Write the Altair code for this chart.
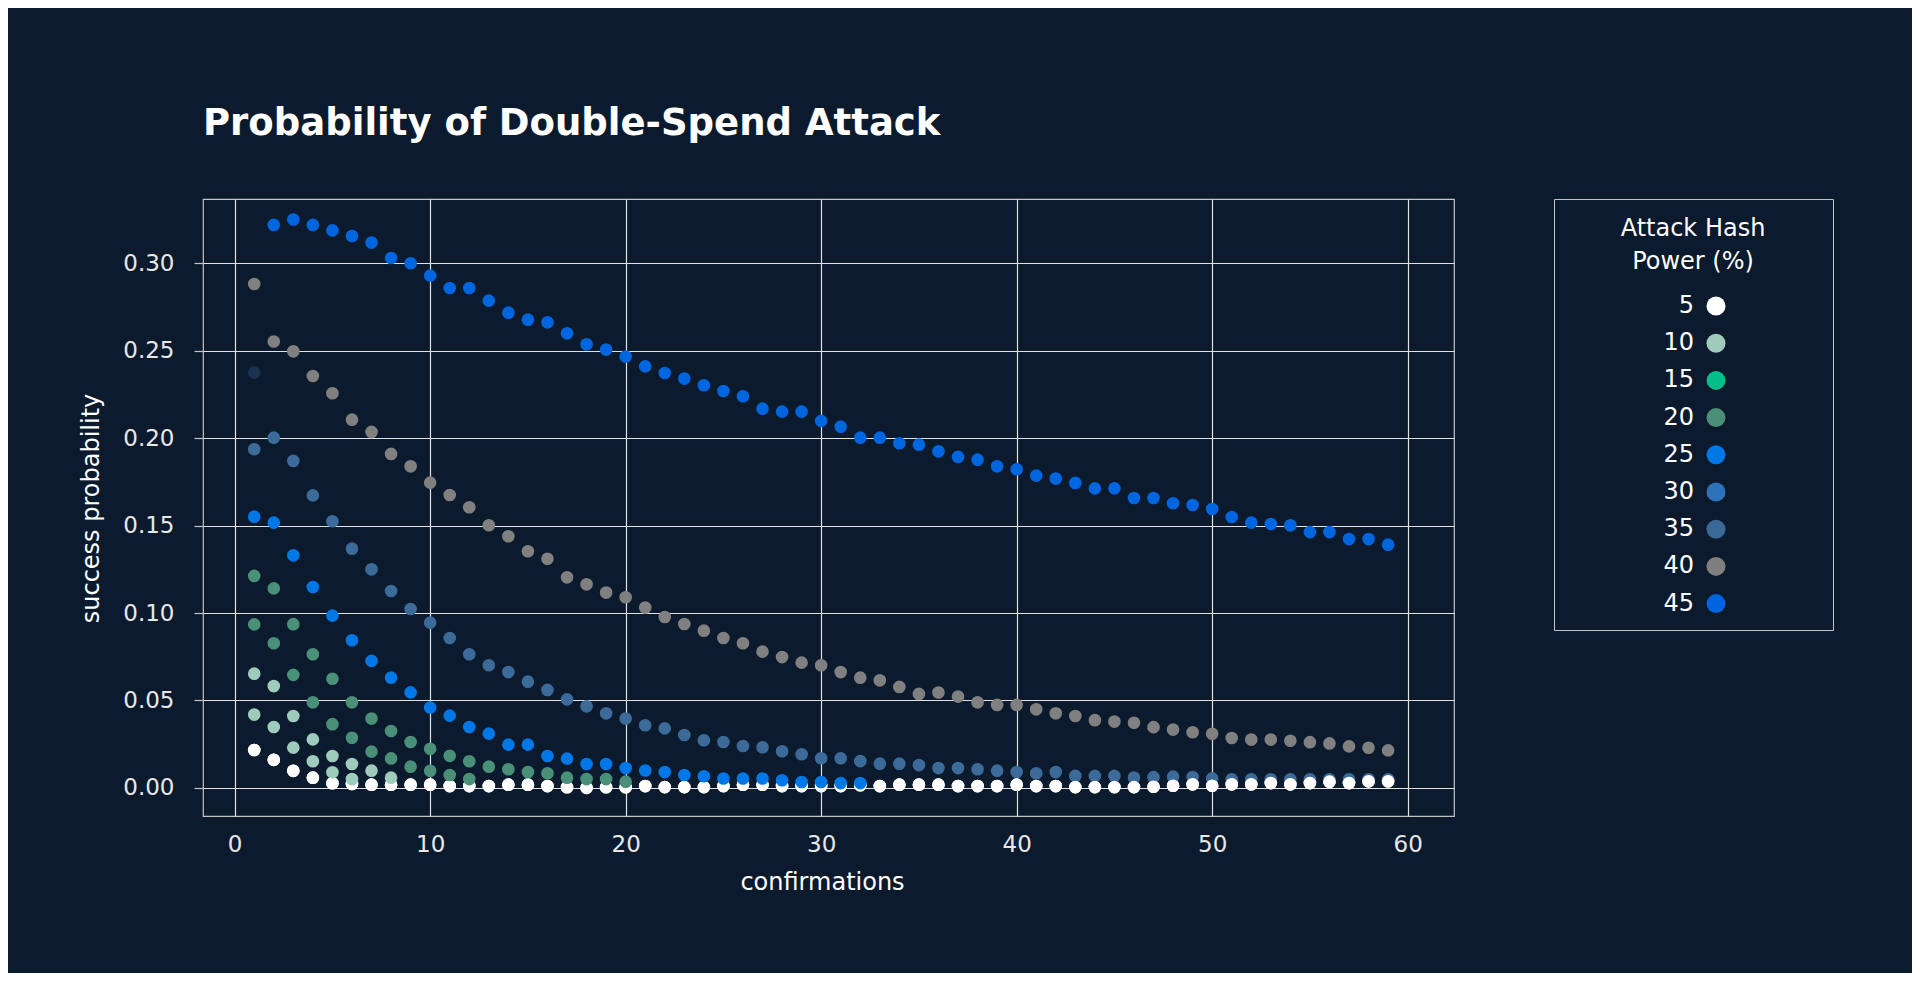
import altair as alt
import pandas as pd

BG = "#0b1a2c"
FONT = "DejaVu Sans"

# Legend categories and their swatch colours
legend_powers = ["5", "10", "15", "20", "25", "30", "35", "40", "45"]
legend_colors = ["#ffffff", "#9fcabc", "#00bf88", "#4a8f78", "#0077e6",
                 "#2e72bb", "#3b6997", "#7f7f7f", "#0063e0"]

# Plotted series: (series key, plotted colour, first confirmation, values)
p45 = [0.3220, 0.3251, 0.3220, 0.3189, 0.3157, 0.3119, 0.3031, 0.3001, 0.2930,
       0.2859, 0.2859, 0.2787, 0.2718, 0.2678, 0.2663, 0.2600, 0.2537, 0.2507,
       0.2467, 0.2411, 0.2373, 0.2341, 0.2303, 0.2270, 0.2240, 0.2169, 0.2152,
       0.2152, 0.2099, 0.2066, 0.2003, 0.2003, 0.1971, 0.1963, 0.1925, 0.1893,
       0.1877, 0.1839, 0.1822, 0.1786, 0.1769, 0.1744, 0.1713, 0.1713, 0.1658,
       0.1658, 0.1628, 0.1618, 0.1595, 0.1549, 0.1517, 0.1509, 0.1502, 0.1463,
       0.1463, 0.1423, 0.1423, 0.1391]
p40 = [0.2882, 0.2553, 0.2497, 0.2356, 0.2257, 0.2106, 0.2036, 0.1910, 0.1839,
       0.1746, 0.1675, 0.1605, 0.1502, 0.1439, 0.1353, 0.1310, 0.1204, 0.1164,
       0.1117, 0.1090, 0.1031, 0.0977, 0.0937, 0.0899, 0.0857, 0.0827, 0.0779,
       0.0748, 0.0716, 0.0701, 0.0662, 0.0630, 0.0615, 0.0577, 0.0537, 0.0545,
       0.0522, 0.0489, 0.0474, 0.0474, 0.0449, 0.0426, 0.0411, 0.0387, 0.0379,
       0.0372, 0.0347, 0.0333, 0.0318, 0.0309, 0.0285, 0.0276, 0.0276, 0.0269,
       0.0261, 0.0254, 0.0237, 0.0229, 0.0214]
p35 = [0.1937, 0.2003, 0.1870, 0.1673, 0.1525, 0.1368, 0.1250, 0.1126, 0.1023,
       0.0945, 0.0857, 0.0764, 0.0701, 0.0662, 0.0607, 0.0560, 0.0506, 0.0466,
       0.0426, 0.0396, 0.0358, 0.0340, 0.0302, 0.0272, 0.0262, 0.0239, 0.0232,
       0.0209, 0.0192, 0.0169, 0.0169, 0.0153, 0.0138, 0.0138, 0.0130, 0.0113,
       0.0113, 0.0106, 0.0098, 0.0090, 0.0083, 0.0090, 0.0068, 0.0068, 0.0068,
       0.0059, 0.0061, 0.0064, 0.0062, 0.0054, 0.0049, 0.0049, 0.0049, 0.0049,
       0.0049, 0.0049, 0.0049, 0.0049, 0.0049]
p5 = [0.0216, 0.0160, 0.0097, 0.0058, 0.0026, 0.0022, 0.0018, 0.0018, 0.0018,
      0.0018, 0.0010, 0.0010, 0.0010, 0.0018, 0.0018, 0.0010, 0.0003, 0.0000,
      0.0003, 0.0003, 0.0010, 0.0004, 0.0004, 0.0004, 0.0010, 0.0018, 0.0018,
      0.0010, 0.0010, 0.0010, 0.0010, 0.0015, 0.0010, 0.0018, 0.0018, 0.0018,
      0.0010, 0.0010, 0.0010, 0.0018, 0.0010, 0.0010, 0.0004, 0.0004, 0.0004,
      0.0004, 0.0006, 0.0012, 0.0020, 0.0012, 0.0020, 0.0020, 0.0027, 0.0020,
      0.0027, 0.0035, 0.0027, 0.0037, 0.0037]
p10 = [0.0419, 0.0348, 0.0230, 0.0152, 0.0089, 0.0050]
p15 = [0.0653, 0.0582, 0.0411, 0.0277, 0.0182, 0.0136, 0.0098, 0.0058]
p20 = [0.0935, 0.0827, 0.0646, 0.0489, 0.0364, 0.0286, 0.0207, 0.0168, 0.0121,
       0.0097, 0.0073, 0.0050]
p25 = [0.1212, 0.1141, 0.0936, 0.0764, 0.0624, 0.0489, 0.0396, 0.0325, 0.0262,
       0.0223, 0.0183, 0.0152, 0.0121, 0.0106, 0.0090, 0.0083, 0.0058, 0.0050,
       0.0050, 0.0035]
p30 = [0.1551, 0.1517, 0.1330, 0.1149, 0.0985, 0.0844, 0.0726, 0.0630, 0.0546,
       0.0459, 0.0413, 0.0348, 0.0310, 0.0247, 0.0247, 0.0182, 0.0167, 0.0136,
       0.0136, 0.0113, 0.0099, 0.0090, 0.0073, 0.0066, 0.0053, 0.0053, 0.0053,
       0.0043, 0.0033, 0.0033, 0.0027, 0.0027]
faint = [0.2375]

series = [
    ("faint", "#19324f", 1, faint),
    ("45", "#0066e0", 2, p45),
    ("40", "#808080", 1, p40),
    ("35", "#3d6b99", 1, p35),
    ("5", "#ffffff", 1, p5),
    ("10", "#9fcbbd", 1, p10),
    ("15", "#9fcbbd", 1, p15),
    ("20", "#4a8f78", 1, p20),
    ("25", "#4a8f78", 1, p25),
    ("30", "#0077e6", 1, p30),
]

rows = []
for key, col, start, vals in series:
    for i, v in enumerate(vals):
        rows.append({"confirmations": start + i, "prob": v,
                     "series": key, "dot": col})
df = pd.DataFrame(rows)

GRID = "#e2e2e2"
FRAME = "#c4c4c4"

x_enc = alt.X(
    "confirmations:Q",
    scale=alt.Scale(domain=[-1.62, 62.37], nice=False, zero=False),
    axis=alt.Axis(values=[0, 10, 20, 30, 40, 50, 60], format="d",
                  grid=True, gridColor=GRID, gridWidth=1.2, domain=False,
                  ticks=True, tickSize=9, tickOpacity=0,
                  labelFont=FONT, labelFontSize=23, labelColor="#e8e8e8",
                  labelPadding=8,
                  title="confirmations", titleFont=FONT, titleFontSize=24,
                  titleFontWeight="normal", titleColor="#ffffff",
                  titleX=619, titleY=66, titleBaseline="middle",
                  titleAlign="center"),
)
y_enc = alt.Y(
    "prob:Q",
    scale=alt.Scale(domain=[-0.01613, 0.33684], nice=False, zero=False),
    axis=alt.Axis(values=[0, 0.05, 0.1, 0.15, 0.2, 0.25, 0.3], format=".2f",
                  grid=True, gridColor=GRID, gridWidth=1.2, domain=False,
                  ticks=True, tickSize=9, tickColor=FRAME, tickWidth=1.2,
                  labelFont=FONT, labelFontSize=23, labelColor="#e8e8e8",
                  labelPadding=20,
                  title="success probability", titleFont=FONT,
                  titleFontSize=24, titleFontWeight="normal",
                  titleColor="#ffffff", titleAngle=-90,
                  titleX=-112, titleY=309, titleBaseline="middle",
                  titleAlign="center"),
)

base = alt.Chart(df).encode(x=x_enc, y=y_enc)

BLANK = "\u2800"
legend_layer = base.transform_filter(alt.datum.series == "5").mark_circle(
    size=160, opacity=1
).encode(
    color=alt.Color(
        "series:N",
        scale=alt.Scale(domain=legend_powers, range=legend_colors),
        legend=alt.Legend(
            title=[BLANK * 3 + "Attack Hash" + BLANK * 3, "Power (%)"],
            orient="none", legendX=1351, legendY=0,
            titleFont=FONT, titleFontSize=24, titleFontWeight="normal",
            titleColor="#ffffff", titleAnchor="middle", titleAlign="center",
            titleLineHeight=33, titlePadding=24, titleLimit=1000,
            titleBaseline="line-top",
            labelFont=FONT, labelFontSize=24, labelColor="#ffffff",
            labelAlign="right", labelOffset={"expr": "-34"}, symbolOffset=44,
            symbolSize=361, symbolType="circle", symbolStrokeWidth=0,
            rowPadding=13.2, padding=14, strokeColor=FRAME,
        ),
    )
)

points = base.mark_circle(size=160, opacity=1).encode(
    fill=alt.Fill("dot:N", scale=None)
)

chart = alt.layer(legend_layer, points).properties(
    width=1251,
    height=617,
    background=BG,
    padding={"left": 195, "top": 191, "right": 458, "bottom": 157},
    autosize=alt.AutoSizeParams(type="none"),
    title=alt.TitleParams(
        "Probability of Double-Spend Attack", anchor="start", frame="group",
        font=FONT, fontSize=37, fontWeight="bold", color="#ffffff",
        offset=56,
    ),
).configure_view(stroke=FRAME, strokeWidth=1.2)

chart.save("out.html", embed_options={"renderer": "svg", "actions": False})
